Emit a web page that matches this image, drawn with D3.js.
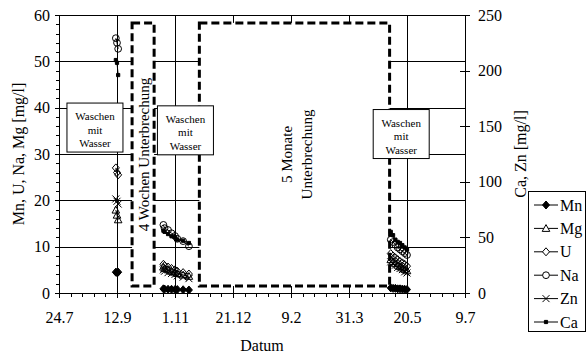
<!DOCTYPE html>
<html>
<head>
<meta charset="utf-8">
<script src="https://cdn.jsdelivr.net/npm/d3@7"></script>
<style>
  body { margin: 0; background: #fff; }
  svg { display: block; }
  text { font-family: "Liberation Serif", "Times New Roman", serif; fill: #000; }
</style>
</head>
<body>
<div id="chart"></div>
<script>
// Daten
const xTickDates = ["24.7.1998", "12.9.1998", "1.11.1998", "21.12.1998", "9.2.1999", "31.3.1999", "20.5.1999", "9.7.1999"];
const leftTicks = [0, 10, 20, 30, 40, 50, 60];
const rightTicks = [0, 50, 100, 150, 200, 250];

// null = Lücke zwischen den Messreihen
const dates = [
  "11.9.1998", "12.9.1998", "13.9.1998", null,
  "22.10.1998", "23.10.1998", "26.10.1998", "29.10.1998", "1.11.1998", "3.11.1998", "8.11.1998", "13.11.1998", null,
  "6.5.1999", "8.5.1999", "10.5.1999", "12.5.1999", "14.5.1999", "16.5.1999", "18.5.1999", "20.5.1999"
];
const mn = [4.5, 4.4, 4.5, null, 0.9, 0.85, 0.8, 0.8, 0.75, 0.75, 0.7, 0.65, null, 1.1, 1.0, 1.0, 0.9, 0.9, 0.85, 0.8, 0.75];
const mg = [17.9, 16.8, 15.8, null, 5.6, 5.3, 5.0, 4.7, 4.5, 4.2, 3.9, 3.6, null, 7.2, 6.8, 6.4, 6.0, 5.7, 5.4, 5.1, 4.8];
const u = [27.0, 26.0, 25.5, null, 6.2, 5.9, 5.6, 5.3, 5.0, 4.7, 4.4, 4.1, null, 8.5, 8.0, 7.6, 7.2, 6.8, 6.5, 6.2, 5.8];
const na = [55.0, 54.0, 52.7, null, 14.7, 14.0, 13.6, 12.9, 12.3, 11.7, 11.2, 10.1, null, 11.5, 11.0, 10.4, 9.8, 9.4, 9.0, 8.6, 8.2];
const zn = [84.6, 82.5, 80.0, null, 20.8, 19.6, 18.3, 17.5, 16.7, 15.4, 14.2, 12.9, null, 28, 26, 25, 23, 22, 21, 19, 18];
const ca = [209.5, 207, 196, null, 56, 55, 53, 51, 50, 48, 47, 45, null, 55, 52, 48, 46, 45, 43, 41, 39];

// Unterbrechungen (Pegel der gestrichelten Linie, linke Achse)
const pauseStart = ["25.9.1998", "22.11.1998"];
const pauseEnd = ["14.10.1998", "5.5.1999"];
const pauseHigh = 58.3;
const pauseLow = 1.5;

// Waschen mit Wasser (Mitte der Kästen)
const washDates = ["24.8.1998", "10.11.1998", "15.5.1999"];
const washLevels = [35.6, 35.0, 34.2];

// Grösse
const [width, height] = [586, 354];
const plot = { left: 59, right: 465, top: 15, bottom: 293 };
const parse = d3.timeParse("%d.%m.%Y");

const svg = d3.select("#chart").append("svg")
  .attr("width", width)
  .attr("height", height);

svg.append("rect").attr("width", width).attr("height", height).attr("fill", "#fff");

const x = d3.scaleTime()
  .domain([parse(xTickDates[0]), parse(xTickDates[xTickDates.length - 1])])
  .range([plot.left, plot.right]);
const yL = d3.scaleLinear().domain([0, 60]).range([plot.bottom, plot.top]);
const yR = d3.scaleLinear().domain([0, 250]).range([plot.bottom, plot.top]);

// Gitter
const grid = svg.append("g").attr("stroke", "#000").attr("stroke-width", 1).attr("shape-rendering", "crispEdges");
leftTicks.forEach(t => {
  grid.append("line").attr("x1", plot.left).attr("x2", plot.right)
    .attr("y1", Math.round(yL(t)) + 0.5).attr("y2", Math.round(yL(t)) + 0.5);
});
xTickDates.forEach(t => {
  const px = Math.round(x(parse(t))) + 0.5;
  grid.append("line").attr("x1", px).attr("x2", px).attr("y1", plot.top).attr("y2", plot.bottom);
});

// Unterbrechungen
pauseStart.forEach((s, i) => {
  const x0 = x(parse(s)), x1 = x(parse(pauseEnd[i]));
  svg.append("rect")
    .attr("x", x0).attr("y", yL(pauseHigh))
    .attr("width", x1 - x0).attr("height", yL(pauseLow) - yL(pauseHigh))
    .attr("fill", "#fff")
    .attr("stroke", "#000")
    .attr("stroke-width", 3)
    .attr("stroke-dasharray", "8,4");
});

const p0 = [x(parse(pauseStart[0])), x(parse(pauseEnd[0]))];
const p1 = [x(parse(pauseStart[1])), x(parse(pauseEnd[1]))];
const yMid = (yL(pauseHigh) + yL(pauseLow)) / 2;

svg.append("text")
  .attr("transform", `translate(${(p0[0] + p0[1]) / 2 + 0.5},${yMid})rotate(-90)`)
  .attr("text-anchor", "middle")
  .attr("dominant-baseline", "central")
  .style("font-size", "15px")
  .text("4 Wochen Unterbrechung");

const cx1 = (p1[0] + p1[1]) / 2;
svg.append("text")
  .attr("transform", `translate(${cx1 - 7},${yMid})rotate(-90)`)
  .attr("text-anchor", "middle")
  .attr("dominant-baseline", "central")
  .style("font-size", "15px")
  .text("5 Monate");
svg.append("text")
  .attr("transform", `translate(${cx1 + 13},${yMid})rotate(-90)`)
  .attr("text-anchor", "middle")
  .attr("dominant-baseline", "central")
  .style("font-size", "15px")
  .text("Unterbrechung");

// Marker
const markers = {
  Mn: { d: "M0,-4L3.5,0L0,4L-3.5,0Z", fill: "#000" },
  Mg: { d: "M0,-3.8L3.8,3L-3.8,3Z", fill: "none" },
  U: { d: "M0,-4L3.5,0L0,4L-3.5,0Z", fill: "none" },
  Na: { d: d3.symbol(d3.symbolCircle, 36)(), fill: "none" },
  Zn: { d: "M-3.5,-3.5L3.5,3.5M-3.5,3.5L3.5,-3.5", fill: "none" },
  Ca: { d: "M-1.6,-1.6h3.2v3.2h-3.2Z", fill: "#000" }
};

const series = [
  { name: "Mn", values: mn, y: yL },
  { name: "Mg", values: mg, y: yL },
  { name: "U", values: u, y: yL },
  { name: "Na", values: na, y: yL },
  { name: "Zn", values: zn, y: yR },
  { name: "Ca", values: ca, y: yR }
];

series.forEach(s => {
  const rows = dates.map((d, i) => ({ date: d ? parse(d) : null, v: s.values[i] }));
  const line = d3.line()
    .defined(d => d.date && d.v != null)
    .x(d => x(d.date))
    .y(d => s.y(d.v));
  svg.append("path")
    .datum(rows)
    .attr("d", line)
    .attr("fill", "none")
    .attr("stroke", "#000")
    .attr("stroke-width", 1);
  svg.append("g").selectAll("path")
    .data(rows.filter(d => d.date && d.v != null))
    .enter()
    .append("path")
    .attr("transform", d => `translate(${x(d.date)},${s.y(d.v)})`)
    .attr("d", markers[s.name].d)
    .attr("fill", markers[s.name].fill)
    .attr("stroke", "#000")
    .attr("stroke-width", 1);
});

// Waschen mit Wasser
washDates.forEach((d, i) => {
  const cx = x(parse(d)), cy = yL(washLevels[i]);
  const g = svg.append("g").attr("transform", `translate(${cx},${cy})`);
  g.append("rect")
    .attr("x", -28).attr("y", -25).attr("width", 56).attr("height", 49)
    .attr("fill", "#fff").attr("stroke", "#000").attr("stroke-width", 1);
  ["Waschen", "mit", "Wasser"].forEach((t, j) => {
    g.append("text")
      .attr("y", -12 + j * 13.5)
      .attr("text-anchor", "middle")
      .attr("dominant-baseline", "central")
      .style("font-size", "11px")
      .text(t);
  });
});

// Achsen
const fmt = d3.timeFormat("%-d.%-m");
const xAxis = svg.append("g")
  .attr("transform", `translate(0,${plot.bottom})`)
  .call(d3.axisBottom(x).tickValues(xTickDates.map(parse)).tickFormat(fmt).tickSize(5).tickSizeOuter(0));
xAxis.selectAll(".tick line").attr("y1", -6);
xAxis.selectAll(".tick text").attr("y", 30).attr("dy", 0).style("font-size", "16px");

const minorDates = d3.timeDay.range(x.domain()[0], d3.timeDay.offset(x.domain()[1], 1), 10);
svg.append("g")
  .attr("transform", `translate(0,${plot.bottom})`)
  .call(d3.axisBottom(x).tickValues(minorDates).tickFormat("").tickSize(4).tickSizeOuter(0))
  .select(".domain").remove();

const lAxis = svg.append("g")
  .attr("transform", `translate(${plot.left},0)`)
  .call(d3.axisLeft(yL).tickValues(leftTicks).tickSize(4).tickPadding(5).tickSizeOuter(0));
lAxis.selectAll(".tick text").style("font-size", "16px");

svg.append("g")
  .attr("transform", `translate(${plot.left},0)`)
  .call(d3.axisLeft(yL).tickValues(d3.range(0, 61, 2)).tickFormat("").tickSize(3).tickSizeOuter(0))
  .select(".domain").remove();

const rAxis = svg.append("g")
  .attr("transform", `translate(${plot.right},0)`)
  .call(d3.axisRight(yR).tickValues(rightTicks).tickSize(5).tickPadding(8).tickSizeOuter(0));
rAxis.selectAll(".tick line").attr("x1", -5);
rAxis.selectAll(".tick text").style("font-size", "16px");

svg.selectAll(".domain, .tick line").attr("stroke", "#000").attr("shape-rendering", "crispEdges");

// Rahmen oben
svg.append("line")
  .attr("x1", plot.left).attr("x2", plot.right)
  .attr("y1", plot.top + 0.5).attr("y2", plot.top + 0.5)
  .attr("stroke", "#000").attr("shape-rendering", "crispEdges");

// Achsentitel
svg.append("text")
  .attr("transform", `translate(18,${(plot.top + plot.bottom) / 2})rotate(-90)`)
  .attr("text-anchor", "middle")
  .attr("dominant-baseline", "central")
  .style("font-size", "16px")
  .text("Mn, U, Na, Mg [mg/l]");

svg.append("text")
  .attr("transform", `translate(520,${(plot.top + plot.bottom) / 2})rotate(-90)`)
  .attr("text-anchor", "middle")
  .attr("dominant-baseline", "central")
  .style("font-size", "16px")
  .text("Ca, Zn [mg/l]");

svg.append("text")
  .attr("x", (plot.left + plot.right) / 2)
  .attr("y", 345)
  .attr("text-anchor", "middle")
  .attr("dominant-baseline", "central")
  .style("font-size", "16px")
  .text("Datum");

// Legende
const legend = svg.append("g").attr("transform", "translate(528,191)");
legend.append("rect")
  .attr("x", 0.5).attr("y", 0.5).attr("width", 57).attr("height", 140)
  .attr("fill", "#fff").attr("stroke", "#000");
series.forEach((s, i) => {
  const g = legend.append("g").attr("transform", `translate(0,${14 + i * 23.4})`);
  g.append("line").attr("x1", 6).attr("x2", 30).attr("stroke", "#000");
  g.append("path")
    .attr("transform", "translate(18,0)")
    .attr("d", markers[s.name].d)
    .attr("fill", markers[s.name].fill === "none" ? "#fff" : "#000")
    .attr("stroke", "#000");
  g.append("text")
    .attr("x", 32)
    .attr("dominant-baseline", "central")
    .style("font-size", "16px")
    .text(s.name);
});
</script>
</body>
</html>
